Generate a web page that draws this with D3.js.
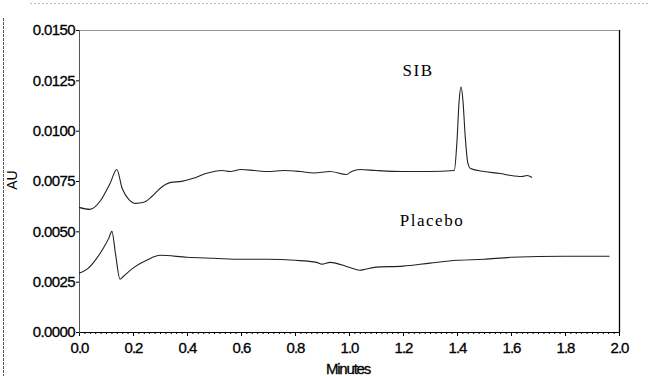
<!DOCTYPE html>
<html><head><meta charset="utf-8">
<script src="https://cdn.jsdelivr.net/npm/d3@7"></script>
<style>body{margin:0;background:#fff}svg{display:block}</style>
</head><body>
<script>
// Data (minutes, AU)
const sibTime = [0.000,0.040,0.080,0.115,0.140,0.160,0.185,0.210,0.240,0.270,0.300,0.340,0.380,0.420,0.470,0.530,0.560,0.600,0.650,0.700,0.760,0.820,0.870,0.930,0.990,1.010,1.040,1.100,1.200,1.300,1.390,1.400,1.408,1.415,1.422,1.430,1.440,1.450,1.500,1.560,1.600,1.640,1.660,1.678];
const sibAU   = [0.00619,0.00609,0.00653,0.00738,0.00807,0.00713,0.00658,0.00639,0.00644,0.00673,0.00713,0.00743,0.00748,0.00762,0.00787,0.00802,0.00797,0.00807,0.00802,0.00797,0.00802,0.00797,0.00790,0.00797,0.00782,0.00797,0.00807,0.00802,0.00797,0.00797,0.00802,0.00950,0.01150,0.01218,0.01150,0.00980,0.00840,0.00812,0.00797,0.00787,0.00777,0.00772,0.00777,0.00767];
const placeboTime = [0.000,0.030,0.060,0.090,0.110,0.122,0.135,0.152,0.165,0.200,0.250,0.300,0.400,0.500,0.600,0.700,0.800,0.880,0.900,0.930,1.000,1.040,1.060,1.100,1.200,1.300,1.400,1.500,1.600,1.800,1.965];
const placeboAU   = [0.00292,0.00312,0.00356,0.00416,0.00465,0.00500,0.00390,0.00262,0.00277,0.00317,0.00356,0.00381,0.00371,0.00366,0.00361,0.00361,0.00356,0.00346,0.00337,0.00346,0.00322,0.00307,0.00312,0.00322,0.00327,0.00342,0.00356,0.00361,0.00371,0.00376,0.00376];
const xTicks = [0.0,0.2,0.4,0.6,0.8,1.0,1.2,1.4,1.6,1.8,2.0];
const xTickLabels = ["0.0","0.2","0.4","0.6","0.8","1.0","1.2","1.4","1.6","1.8","2.0"];
const yTicks = [0.0000,0.0025,0.0050,0.0075,0.0100,0.0125,0.0150];
const yTickLabels = ["0.0000","0.0025","0.0050","0.0075","0.0100","0.0125","0.0150"];
const seriesLabels = ["SIB","Placebo"];

const W=650,H=376, L=79, R=619, T=30, B=332;
const svg = d3.select("body").append("svg").attr("width",W).attr("height",H);
const x = d3.scaleLinear().domain([0,2.0]).range([L,R]);
const y = d3.scaleLinear().domain([0,0.0150]).range([B,T]);

// scan edge lines
svg.append("line").attr("x1",30).attr("x2",650).attr("y1",3.5).attr("y2",3.5)
  .attr("stroke","#bbb").attr("stroke-dasharray","2,2");
svg.append("line").attr("x1",3.5).attr("x2",3.5).attr("y1",18).attr("y2",376)
  .attr("stroke","#555").attr("stroke-dasharray","3,1");

// frame top/right
svg.append("line").attr("x1",L).attr("x2",R).attr("y1",T+0.5).attr("y2",T+0.5).attr("stroke","#999");
svg.append("line").attr("x1",R+0.5).attr("x2",R+0.5).attr("y1",T).attr("y2",B).attr("stroke","#000").attr("stroke-width",1.3);

const font = "'Liberation Sans', Arial, sans-serif";
// x axis
const xAxis = svg.append("g").attr("transform",`translate(0,${B})`)
  .call(d3.axisBottom(x).tickValues(xTicks).tickFormat((d,i)=>xTickLabels[i]).tickSize(4).tickPadding(6));
xAxis.select(".domain").attr("stroke","#000");
xAxis.selectAll("text").attr("font-family",font).attr("font-size",15).attr("letter-spacing","-1px")
  .attr("fill","#000").attr("stroke","#000").attr("stroke-width",0.3);
const minorX = d3.range(0,101).map(i=>i*0.02);
svg.append("g").attr("transform",`translate(0,${B})`)
  .call(d3.axisBottom(x).tickValues(minorX).tickFormat("").tickSize(2))
  .select(".domain").remove();

// y axis
const yAxis = svg.append("g").attr("transform",`translate(${L},0)`)
  .call(d3.axisLeft(y).tickValues(yTicks).tickFormat((d,i)=>yTickLabels[i]).tickSize(3).tickPadding(1));
yAxis.select(".domain").attr("stroke","#555");
yAxis.selectAll("text").attr("font-family",font).attr("font-size",15).attr("letter-spacing","-0.6px")
  .attr("fill","#000").attr("stroke","#000").attr("stroke-width",0.3);

// axis titles
svg.append("text").attr("x",348).attr("y",374).attr("text-anchor","middle")
  .attr("font-family",font).attr("font-size",15).attr("letter-spacing","-1.2px")
  .attr("stroke","#000").attr("stroke-width",0.3).text("Minutes");
svg.append("text").attr("transform","translate(17,180) rotate(-90)").attr("text-anchor","middle")
  .attr("font-family",font).attr("font-size",14).text("AU");

// traces
const line = d3.line().x(d=>x(d[0])).y(d=>y(d[1])).curve(d3.curveMonotoneX);
svg.append("path").datum(sibTime.map((t,i)=>[t,sibAU[i]])).attr("d",line)
  .attr("fill","none").attr("stroke","#222").attr("stroke-width",1.1);
svg.append("path").datum(placeboTime.map((t,i)=>[t,placeboAU[i]])).attr("d",line)
  .attr("fill","none").attr("stroke","#222").attr("stroke-width",1.1);

// labels
const serif = "'Liberation Serif','Times New Roman',serif";
svg.append("text").attr("x",418).attr("y",76).attr("text-anchor","middle")
  .attr("font-family",serif).attr("font-size",17).attr("letter-spacing","1.5px").text(seriesLabels[0]);
svg.append("text").attr("x",432).attr("y",226).attr("text-anchor","middle")
  .attr("font-family",serif).attr("font-size",17).attr("letter-spacing","1.5px").text(seriesLabels[1]);
</script>
</body></html>
